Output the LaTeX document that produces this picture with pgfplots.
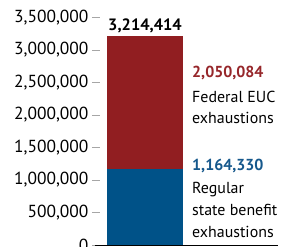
\documentclass[border=0pt]{standalone}
\usepackage{pgfplots}
\pgfplotsset{compat=1.18}
\usepackage{fontspec}
\setmainfont{PT Sans}
\definecolor{fedred}{RGB}{145,30,33}
\definecolor{stblue}{RGB}{0,82,136}
\definecolor{fedtxt}{RGB}{150,38,42}
\definecolor{bluetxt}{RGB}{22,88,140}
\begin{document}
\fontsize{16}{21}\selectfont
\begin{tikzpicture}
\path[use as bounding box] (0,0) rectangle (296bp,247bp);
\begin{axis}[
  at={(100bp,2bp)}, anchor=south west, scale only axis,
  width=178bp, height=227.5bp,
  xmin=0, xmax=178, ymin=0, ymax=3500000,
  ybar stacked, bar width=76,
  axis line style={draw=none},
  xtick=\empty,
  ytick={0,500000,1000000,1500000,2000000,2500000,3000000,3500000},
  ytick pos=left, tick align=outside, major tick length=8bp,
  ytick style={draw=black!35, line width=0.8pt},
  scaled y ticks=false,
  yticklabel style={xshift=2bp, /pgf/number format/.cd, fixed, 1000 sep={,}, assume math mode=true},
  ticklabel style={font=\fontsize{17.5}{20}\selectfont},
  clip=false,
]
\addplot[fill=stblue, draw=none] coordinates {(45,1164330)};
\addplot[fill=fedred, draw=none] coordinates {(45,2050084)};
\draw[black, line width=0.8pt] (axis cs:-5,0) -- (axis cs:178,0);
\end{axis}
\node[anchor=base, inner sep=0pt] at (145bp,216bp) {\fontsize{16.5}{20}\selectfont\bfseries 3,214,414};
\node[anchor=base west, inner sep=0pt, text=fedtxt] at (192bp,169.5bp) {\bfseries 2,050,084};
\node[anchor=base west, inner sep=0pt] at (192bp,144bp) {Federal EUC};
\node[anchor=base west, inner sep=0pt] at (192bp,123bp) {exhaustions};
\node[anchor=base west, inner sep=0pt, text=bluetxt] at (192bp,76bp) {\bfseries 1,164,330};
\node[anchor=base west, inner sep=0pt] at (192bp,53.5bp) {Regular};
\node[anchor=base west, inner sep=0pt] at (192bp,32bp) {state benefit};
\node[anchor=base west, inner sep=0pt] at (192bp,10bp) {exhaustions};
\end{tikzpicture}
\end{document}
